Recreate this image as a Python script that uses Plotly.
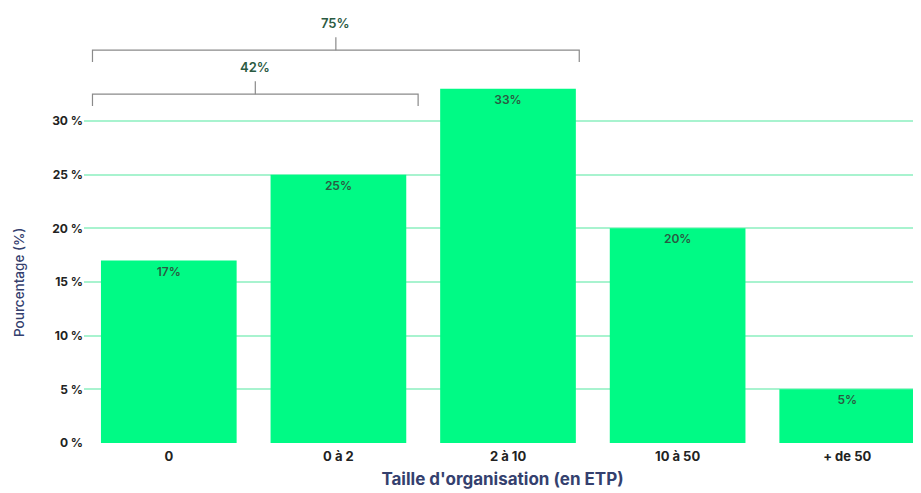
import plotly.graph_objects as go

categories = ["0", "0 à 2", "2 à 10", "10 à 50", "+ de 50"]
values = [17, 25, 33, 20, 5]
bar_labels = ["17%", "25%", "33%", "20%", "5%"]
y_ticks = [0, 5, 10, 15, 20, 25, 30]

# brackets: label, first category index, last category index, level (y of bracket line)
bracket_labels = ["42%", "75%"]
bracket_first = [0, 0]
bracket_last = [1, 2]
bracket_levels = [32.5, 36.6]

BAR = "#00FA85"
GRID = "#a8f3cf"
LABEL = "#2a5a42"
NAVY = "#34406e"
FONT = "Inter, Roboto, sans-serif"

xs = list(range(len(categories)))

fig = go.Figure()
fig.add_trace(go.Bar(
    x=xs, y=values, marker_color=BAR, marker_line_width=0,
    text=bar_labels, textposition="inside", insidetextanchor="end",
    textfont=dict(size=12, color=LABEL, family=FONT, weight=600), textangle=0,
    showlegend=False, hoverinfo="skip",
))

annotations = []
for lab, a, b, lev in zip(bracket_labels, bracket_first, bracket_last, bracket_levels):
    x0 = a - 0.45
    x1 = b + 0.45 - (0.03 if b - a == 2 else -0.02)
    xm = (x0 + x1) / 2
    fig.add_trace(go.Scatter(
        x=[x0, x0, x1, x1], y=[lev - 1.1, lev, lev, lev - 1.1],
        mode="lines", line=dict(color="#8a8a8a", width=1.2),
        showlegend=False, hoverinfo="skip",
    ))
    fig.add_trace(go.Scatter(
        x=[xm, xm], y=[lev, lev + 1.2],
        mode="lines", line=dict(color="#8a8a8a", width=1.2),
        showlegend=False, hoverinfo="skip",
    ))
    annotations.append(dict(
        x=xm, y=lev + 2.5, xref="x", yref="y", text=lab, showarrow=False,
        font=dict(size=13, color=LABEL, family=FONT, weight=600),
    ))

annotations.append(dict(
    x=-0.0777, y=15, xref="paper", yref="y", xanchor="center", yanchor="middle",
    text="Pourcentage (%)", textangle=-90,
    showarrow=False, font=dict(size=13.5, color=NAVY, family=FONT, weight=500),
))

fig.update_layout(
    width=913, height=485,
    margin=dict(l=76, r=0, t=2, b=50, autoexpand=False),
    plot_bgcolor="white", paper_bgcolor="white",
    bargap=0.2,
    font=dict(family=FONT),
    annotations=annotations,
    xaxis=dict(
        automargin=False,
        range=[-0.5, 4.435], tickvals=xs, ticktext=["<b>%s</b>" % c for c in categories],
        tickfont=dict(size=13, color="#222222", family=FONT),
        ticklabelstandoff=4,
        showgrid=False, zeroline=False, showline=False, ticks="",
        title=dict(text="<b>Taille d'organisation (en ETP)</b>",
                   font=dict(size=17, color=NAVY, family=FONT), standoff=10),
    ),
    yaxis=dict(
        automargin=False,
        range=[0, 40.34], tickvals=y_ticks,
        ticktext=["<b>%d %%</b>" % v for v in y_ticks],
        tickfont=dict(size=12, color="#222222", family=FONT),
        showgrid=True, gridcolor=GRID, gridwidth=1.5,
        zeroline=False, showline=False, ticks="",
    ),
)

fig.write_html("out.html")
